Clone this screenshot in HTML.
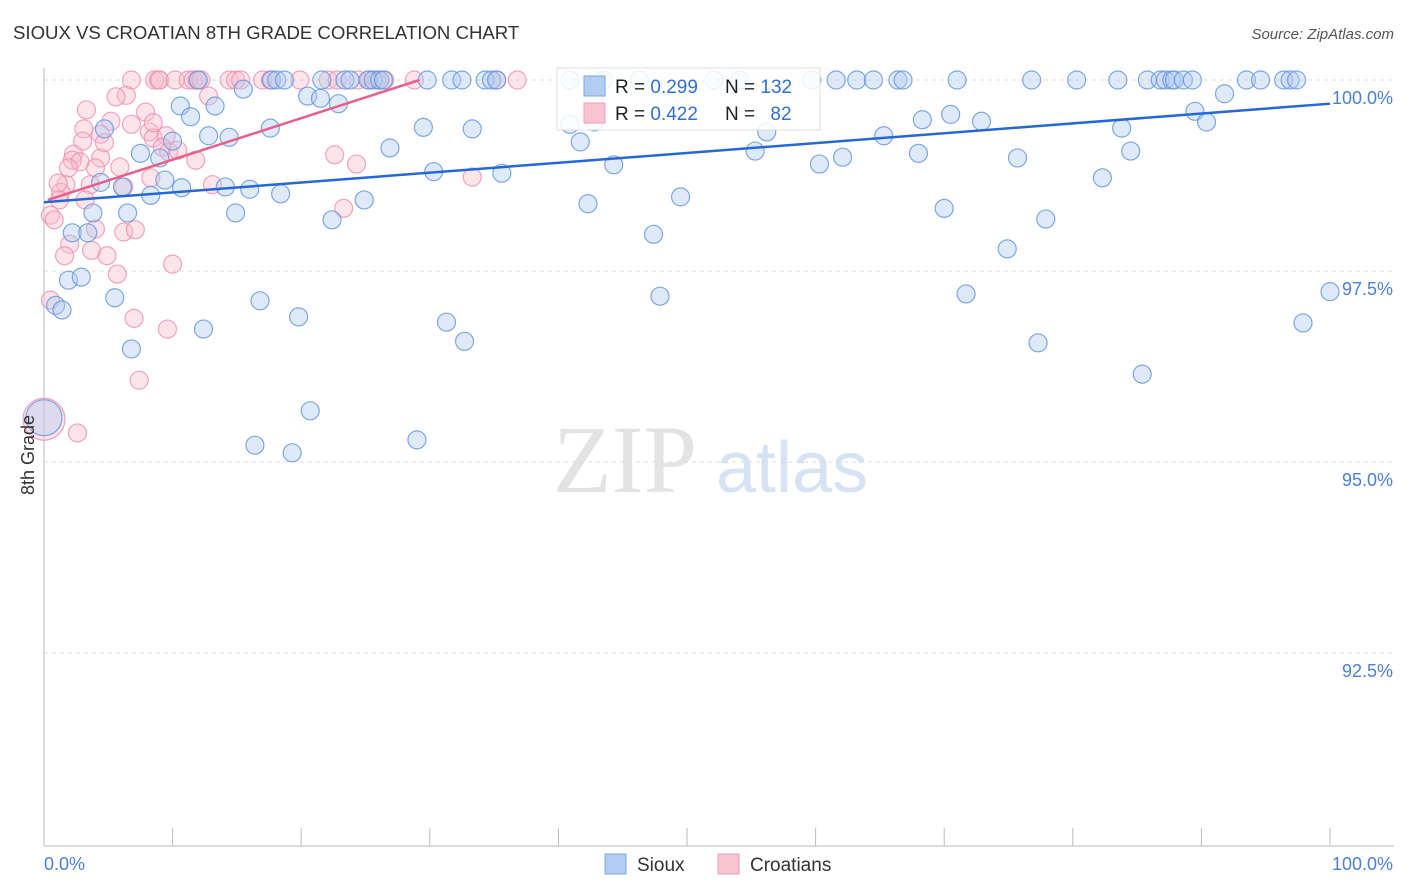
<!DOCTYPE html>
<html><head><meta charset="utf-8">
<style>
body{margin:0;background:#fff;font-family:"Liberation Sans",sans-serif;}
svg{display:block}
</style></head>
<body>
<svg id="chart" width="1406" height="892" viewBox="0 0 1406 892" xmlns="http://www.w3.org/2000/svg">
<text x="13" y="39" font-size="18.6" fill="#333" font-family="Liberation Sans, sans-serif">SIOUX VS CROATIAN 8TH GRADE CORRELATION CHART</text>
<text x="1394" y="39" font-size="15" fill="#555" text-anchor="end" font-style="italic">Source: ZipAtlas.com</text>
<g>
<text x="553" y="492" font-size="96" fill="#e3e3e3" font-family="Liberation Serif, serif">ZIP</text>
<text x="716" y="492" font-size="72" fill="#d6e3f5">atlas</text>
</g>
<g id="grid"></g>
<g id="axes"></g>
<g id="pts"></g>
<g id="trends"></g>
<text transform="translate(34,455) rotate(-90)" font-size="18" fill="#333" text-anchor="middle">8th Grade</text>
<g>
<rect x="557" y="68" width="263" height="62" fill="#fff" fill-opacity="0.85" stroke="#ddd"/>
<rect x="584" y="76" width="21" height="20" fill="#b3cdf2" stroke="#7aa6e6"/>
<rect x="584" y="103" width="21" height="20" fill="#f8c3d3" stroke="#ef9db7"/>
<text x="615" y="93" font-size="19" fill="#222">R = <tspan fill="#2f6fd6">0.299</tspan></text>
<text x="725" y="93" font-size="19" fill="#222">N = <tspan fill="#2f6fd6">132</tspan></text>
<text x="615" y="120" font-size="19" fill="#222">R = <tspan fill="#2f6fd6">0.422</tspan></text>
<text x="725" y="120" font-size="19" fill="#222">N = <tspan fill="#2f6fd6" dx="10">82</tspan></text>
</g>
<g>
<rect x="605" y="854" width="21" height="20" fill="#b3cdf2" stroke="#7aa6e6"/>
<text x="637" y="871" font-size="19" fill="#333">Sioux</text>
<rect x="718" y="854" width="21" height="20" fill="#f8c3d3" stroke="#ef9db7"/>
<text x="750" y="871" font-size="19" fill="#333">Croatians</text>
</g>
</svg>
<script>
const yTicks=[100,97.5,95,92.5];
const yTickLabels=["100.0%","97.5%","95.0%","92.5%"];
const xTickLabels=["0.0%","100.0%"];
const siouxX=[12.0,17.7,18.1,18.7,21.6,23.4,23.8,25.2,25.6,26.1,26.4,29.8,31.7,32.5,34.3,34.8,35.2,40.9,43.5,46.3,52.1,54.1,59.7,61.6,63.2,64.5,66.4,66.8,71.0,76.8,80.3,83.5,85.8,86.8,87.2,87.7,87.9,88.6,89.3,93.5,94.6,96.4,96.9,97.4,
10.6,13.3,11.4,15.5,20.5,21.5,22.9,4.7,12.8,14.4,17.6,29.5,33.3,40.9,42.8,7.5,9.0,10.0,26.9,41.7,44.3,4.4,6.1,8.3,9.4,10.7,14.1,16.0,18.4,24.9,30.3,35.6,3.8,6.5,14.9,22.4,2.2,3.4,42.3,47.4,49.5,1.9,2.9,0.9,1.4,5.5,16.8,19.8,12.4,6.8,31.3,32.7,47.9,20.7,16.4,19.3,29.0,
55.3,56.2,60.3,62.1,65.3,68.0,68.3,70.5,72.9,70.0,71.7,74.9,75.7,77.3,77.9,82.3,83.8,84.5,85.4,89.5,90.4,91.8,97.9,100];
const siouxY=[100,100,100,100,100,100,100,100,100,100,100,100,100,100,100,100,100,100,100,100,100,100,100,100,100,100,100,100,100,100,100,100,100,100,100,100,100,100,100,100,100,100,100,100,
99.66,99.66,99.52,99.88,99.79,99.76,99.69,99.36,99.27,99.25,99.37,99.38,99.36,99.42,99.45,99.04,98.98,99.20,99.11,99.19,98.89,98.66,98.60,98.49,98.69,98.59,98.60,98.57,98.51,98.43,98.80,98.78,98.26,98.26,98.26,98.17,98.0,98.0,98.38,97.98,98.47,97.38,97.42,97.05,96.99,97.15,97.11,96.90,96.74,96.48,96.83,96.58,97.17,95.67,95.22,95.12,95.29,
99.07,99.32,98.90,98.99,99.27,99.04,99.48,99.55,99.46,98.32,97.20,97.79,98.98,96.56,98.18,98.72,99.37,99.07,96.15,99.59,99.45,99.82,96.82,97.23];
const croX=[6.8,8.6,8.9,9.0,10.2,11.2,11.6,11.9,12.2,14.4,14.9,15.3,17.0,17.6,19.9,22.1,22.8,24.4,25.3,25.9,26.5,28.8,35.2,36.8,
3.3,6.4,5.6,7.9,12.8,6.8,5.2,3.1,4.4,3.0,2.3,2.2,2.8,4.4,4.7,8.2,8.5,9.5,9.2,9.7,4.0,1.9,5.9,6.2,3.6,1.7,1.3,1.2,0.5,0.8,2.0,3.7,4.9,4.0,6.2,7.1,5.7,10.0,11.8,13.1,22.6,24.3,23.3,33.3,0.5,7.0,9.6,7.4,2.6,1.6,8.3,1.1,3.2,8.5,10.4];
const croY=[100,100,100,100,100,100,100,100,100,100,100,100,100,100,100,100,100,100,100,100,100,100,100,100,
99.61,99.80,99.78,99.58,99.79,99.42,99.46,99.36,99.29,99.20,99.03,98.95,98.93,98.98,99.18,99.32,99.24,99.27,99.12,99.06,98.85,98.85,98.86,98.60,98.63,98.63,98.53,98.43,98.23,98.17,97.85,97.77,97.70,98.05,98.01,98.04,97.46,97.59,98.95,98.63,99.02,98.90,98.32,98.73,97.12,96.88,96.74,96.07,95.38,97.70,98.72,98.65,98.43,99.44,99.08];
const bigX=[0];const bigSiouxY=[95.58];const bigCroY=[95.56];
const siouxTrend=[[0,98.40],[100,99.69]];
const croTrend=[[0.3,98.43],[29.2,100]];

const NS="http://www.w3.org/2000/svg";
const X=v=>44+v*12.86;
const Y=v=>80+(100-v)*76.4;
function mk(tag,attrs,parent){const e=document.createElementNS(NS,tag);for(const k in attrs)e.setAttribute(k,attrs[k]);parent.appendChild(e);return e;}
const grid=document.getElementById('grid'),axes=document.getElementById('axes'),pts=document.getElementById('pts'),tr=document.getElementById('trends');
yTicks.forEach((t,i)=>{
  const l=mk('line',{x1:44,x2:1394,y1:Y(t),y2:Y(t),stroke:'#ddd','stroke-dasharray':'4,4'},grid);
  
  
  const tx=mk('text',{x:1393,y:Y(t)+24,'font-size':18,fill:'#4a7fd8','text-anchor':'end'},axes);
  tx.textContent=yTickLabels[i];
  
  
});
const ya=mk('line',{x1:44,x2:44,y1:68,y2:846,stroke:'#bbb'},axes);


const xa=mk('line',{x1:44,x2:1394,y1:846,y2:846,stroke:'#bbb'},axes);


for(let i=0;i<=10;i++){
  const tk=mk('line',{x1:X(i*10),x2:X(i*10),y1:828,y2:846,stroke:'#bbb'},axes);
  
  
}
const xl0=mk('text',{x:44,y:870,'font-size':18,fill:'#4a7fd8'},axes);xl0.textContent=xTickLabels[0];


const xl1=mk('text',{x:1393,y:870,'font-size':18,fill:'#4a7fd8','text-anchor':'end'},axes);xl1.textContent=xTickLabels[1];



function dot(x,y,r,fill,stroke,name){
  const c=mk('circle',{cx:X(x),cy:Y(y),r:r,fill:fill,'fill-opacity':0.4,stroke:stroke,'stroke-opacity':0.8,'stroke-width':1.2},pts);
  
  
}
croX.forEach((x,i)=>dot(x,croY[i],9,'#f7bccd','#ef8fae','croatians-point'));
siouxX.forEach((x,i)=>dot(x,siouxY[i],9,'#b0cbf1','#5f93de','sioux-point'));
bigX.forEach((x,i)=>{dot(x,bigCroY[i],21,'#f7bccd','#ef8fae','croatians-point-large');dot(x,bigSiouxY[i],18,'#b0cbf1','#5f93de','sioux-point-large');});
const l1=mk('line',{x1:X(siouxTrend[0][0]),y1:Y(siouxTrend[0][1]),x2:X(siouxTrend[1][0]),y2:Y(siouxTrend[1][1]),stroke:'#2468d6','stroke-width':2.5},tr);


const l2=mk('line',{x1:X(croTrend[0][0]),y1:Y(croTrend[0][1]),x2:X(croTrend[1][0]),y2:Y(croTrend[1][1]),stroke:'#e8608a','stroke-width':2.5},tr);


</script>
</body></html>
